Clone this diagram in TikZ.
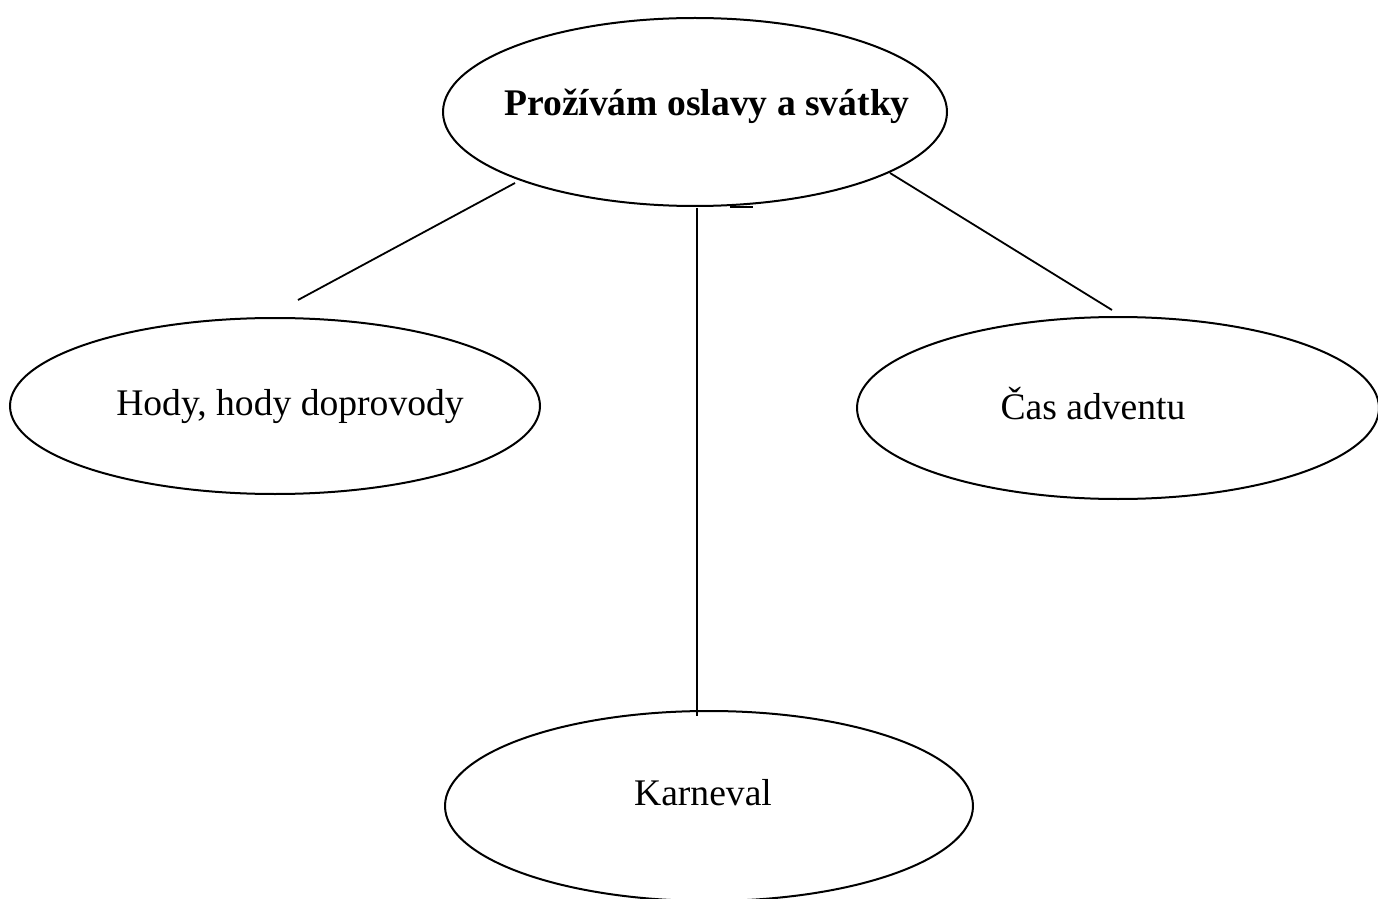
\documentclass[tikz,border=0pt]{standalone}
\usepackage{fontspec}
\setmainfont{Liberation Serif}
\begin{document}
\begin{tikzpicture}[x=0.5pt,y=-0.5pt,
  ell/.style={draw=black,line width=1pt},
  conn/.style={draw=black,line width=0.9pt},
  lbl/.style={font=\fontsize{18.8}{22}\selectfont}]
\useasboundingbox (0,0) rectangle (1378,899);
\begin{scope}
\clip (0,0) rectangle (1378,899);
\draw[ell] (695,112) ellipse [x radius=252, y radius=94];
\draw[ell] (275,406) ellipse [x radius=265, y radius=88];
\draw[ell] (1118,408) ellipse [x radius=261, y radius=91];
\draw[ell] (709,806) ellipse [x radius=264, y radius=95];
\end{scope}
\node[lbl,font=\fontsize{18.8}{22}\selectfont\bfseries] (top) at (707,106) {Prožívám oslavy a svátky};
\node[lbl] (left) at (290,407) {Hody, hody doprovody};
\node[lbl] (right) at (1093,404) {Čas adventu};
\node[lbl] (bot) at (703,793) {Karneval};
\coordinate (t1) at (515,183);
\coordinate (l1) at (298,300);
\coordinate (t2) at (697,208);
\coordinate (b1) at (697,716);
\coordinate (t3) at (890,173);
\coordinate (r1) at (1112,310);
\coordinate (s1) at (730,207);
\coordinate (s2) at (753,207);
\draw[conn] (t1) -- (l1);
\draw[conn] (t2) -- (b1);
\draw[conn] (t3) -- (r1);
\draw[conn] (s1) -- (s2);
\end{tikzpicture}
\end{document}
